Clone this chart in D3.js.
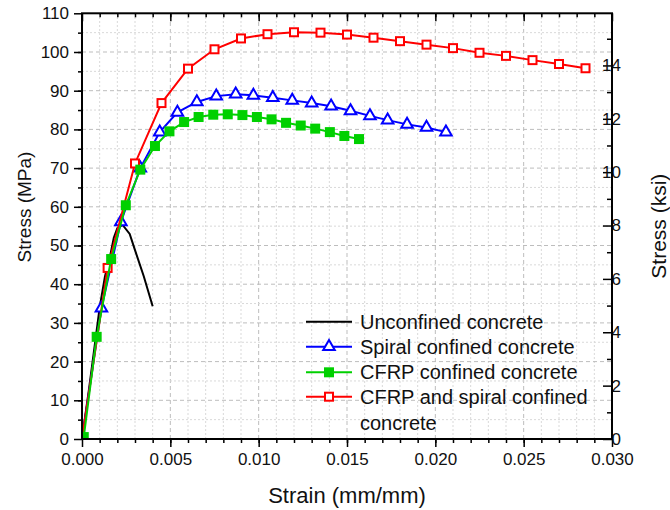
<!DOCTYPE html>
<html>
<head>
<meta charset="utf-8">
<script src="https://cdn.jsdelivr.net/npm/d3@7"></script>
<style>
  body { margin: 0; background: #fff; }
  svg { font-family: "Liberation Sans", Arial, sans-serif; }
</style>
</head>
<body>
<script>
// strain (mm/mm) and stress (MPa)
const unconfinedStrain = [0, 0.0004, 0.0008, 0.0010, 0.0013, 0.0016, 0.0018, 0.0020, 0.0023, 0.0027, 0.0030, 0.0035, 0.0040];
const unconfinedStress = [0, 13, 27, 34, 42, 47.5, 52, 54.5, 55.3, 53, 48.8, 42, 34.3];

const spiralStrain = [0, 0.0011, 0.0022, 0.0033, 0.0044, 0.0054, 0.0065, 0.0076, 0.0087, 0.0097, 0.0108, 0.0119, 0.0130, 0.0141, 0.0152, 0.0163, 0.0173, 0.0184, 0.0195, 0.0206];
const spiralStress = [0, 33.8, 56.1, 70, 79.3, 84.4, 87.1, 88.6, 89.1, 88.8, 88.2, 87.5, 86.8, 86.0, 84.8, 83.5, 82.4, 81.3, 80.5, 79.3];

const cfrpStrain = [0.0001, 0.00083, 0.00165, 0.00248, 0.0033, 0.00413, 0.00495, 0.00578, 0.0066, 0.00743, 0.00825, 0.00908, 0.0099, 0.01073, 0.01155, 0.01238, 0.0132, 0.01403, 0.01485, 0.01568];
const cfrpStress = [0.5, 26.4, 46.5, 60.4, 69.6, 75.7, 79.5, 81.9, 83.2, 83.8, 83.9, 83.7, 83.2, 82.6, 81.7, 81.0, 80.2, 79.3, 78.3, 77.5];

const bothStrain = [0, 0.00145, 0.003, 0.0045, 0.006, 0.0075, 0.009, 0.0105, 0.012, 0.0135, 0.015, 0.0165, 0.018, 0.0195, 0.021, 0.0225, 0.024, 0.0255, 0.027, 0.0285];
const bothStress = [0, 44.2, 71.2, 86.8, 95.7, 100.7, 103.5, 104.6, 105.1, 105.0, 104.5, 103.7, 102.8, 101.9, 101.0, 99.8, 99.0, 97.9, 96.9, 95.8];

const legendNames = ['Unconfined concrete', 'Spiral confined concrete', 'CFRP confined concrete', 'CFRP and spiral confined concrete'];

const xTicks = [0, 0.005, 0.010, 0.015, 0.020, 0.025, 0.030];
const yTicks = [0, 10, 20, 30, 40, 50, 60, 70, 80, 90, 100, 110];
const ksiTicks = [0, 2, 4, 6, 8, 10, 12, 14];
const MPA_PER_KSI = 6.895;

const W = 670, H = 510;
const pLeft = 82, pRight = 612, pTop = 13.3, pBottom = 439;

const svg = d3.select('body').append('svg')
    .attr('width', W)
    .attr('height', H);

const x = d3.scaleLinear().domain([0, 0.030]).range([pLeft, pRight]);
const y = d3.scaleLinear().domain([0, 110]).range([pBottom, pTop]);
const yk = d3.scaleLinear().domain([0, 110 / MPA_PER_KSI]).range([pBottom, pTop]);

// grille (mineure plus claire)
const xMinor = d3.range(1, 30).map(d => d / 1000);
const yMinor = d3.range(5, 110, 5);
const grid = svg.append('g');
grid.selectAll('.vx').data(xMinor).join('line')
    .attr('x1', d => x(d)).attr('x2', d => x(d))
    .attr('y1', pBottom).attr('y2', pTop)
    .attr('stroke', d => Math.round(d * 1000) % 5 === 0 ? '#bdbdbd' : '#d9d9d9')
    .attr('stroke-width', 1)
    .attr('stroke-dasharray', d => Math.round(d * 1000) % 5 === 0 ? '4,3' : '2,2');
grid.selectAll('.hy').data(yMinor).join('line')
    .attr('x1', pLeft).attr('x2', pRight)
    .attr('y1', d => y(d)).attr('y2', d => y(d))
    .attr('stroke', d => d % 10 === 0 ? '#bdbdbd' : '#d9d9d9')
    .attr('stroke-width', 1)
    .attr('stroke-dasharray', d => d % 10 === 0 ? '4,3' : '2,2');

svg.append('clipPath').attr('id', 'plot')
    .append('rect')
    .attr('x', pLeft).attr('y', pTop)
    .attr('width', pRight - pLeft).attr('height', pBottom - pTop);

const series = [
    { name: legendNames[0], xs: unconfinedStrain, ys: unconfinedStress, color: '#000000', marker: null },
    { name: legendNames[1], xs: spiralStrain, ys: spiralStress, color: '#0000ff', marker: 'triangle' },
    { name: legendNames[3], xs: bothStrain, ys: bothStress, color: '#ff0000', marker: 'open' },
    { name: legendNames[2], xs: cfrpStrain, ys: cfrpStress, color: '#00d000', marker: 'filled' }
];

const line = d3.line().x(d => x(d[0])).y(d => y(d[1]));
const tri = d3.symbol().type(d3.symbolTriangle).size(58);

function drawMarker(g, kind, color) {
    if (kind === 'triangle') {
        g.append('path').attr('d', tri())
            .attr('fill', '#fff').attr('stroke', color).attr('stroke-width', 2);
    } else if (kind === 'open') {
        g.append('rect').attr('x', -4).attr('y', -4).attr('width', 8).attr('height', 8)
            .attr('fill', '#fff').attr('stroke', color).attr('stroke-width', 2);
    } else if (kind === 'filled') {
        g.append('rect').attr('x', -5).attr('y', -5).attr('width', 10).attr('height', 10)
            .attr('fill', color);
    }
}

const plot = svg.append('g').attr('clip-path', 'url(#plot)');
series.forEach(s => {
    const pts = s.xs.map((v, i) => [v, s.ys[i]]);
    plot.append('path')
        .datum(pts)
        .attr('d', line)
        .attr('fill', 'none')
        .attr('stroke', s.color)
        .attr('stroke-width', 2);
    if (s.marker) {
        pts.forEach(p => {
            const g = plot.append('g').attr('transform', `translate(${x(p[0])},${y(p[1])})`);
            drawMarker(g, s.marker, s.color);
        });
    }
});

// axes
const axisStyle = g => {
    g.select('.domain').remove();
    g.selectAll('.tick line').attr('stroke', '#000').attr('stroke-width', 1.5);
    g.selectAll('.tick text').attr('fill', '#111').style('font-size', '17px').style('font-family', '"Liberation Sans", Arial, sans-serif');
};

// bas
svg.append('g').attr('transform', `translate(0,${pBottom})`)
    .call(d3.axisBottom(x).tickValues(xMinor).tickSize(4).tickFormat(''))
    .call(axisStyle);
svg.append('g').attr('transform', `translate(0,${pBottom})`)
    .call(d3.axisBottom(x).tickValues(xTicks).tickSize(8).tickPadding(6).tickFormat(d3.format('.3f')))
    .call(axisStyle);
// haut (vers l'intérieur, sans texte)
svg.append('g').attr('transform', `translate(0,${pTop})`)
    .call(d3.axisBottom(x).tickValues(xMinor).tickSize(4).tickFormat(''))
    .call(axisStyle);
svg.append('g').attr('transform', `translate(0,${pTop})`)
    .call(d3.axisBottom(x).tickValues(xTicks).tickSize(8).tickFormat(''))
    .call(axisStyle);
// gauche
svg.append('g').attr('transform', `translate(${pLeft},0)`)
    .call(d3.axisLeft(y).tickValues(yMinor).tickSize(4).tickFormat(''))
    .call(axisStyle);
svg.append('g').attr('transform', `translate(${pLeft},0)`)
    .call(d3.axisLeft(y).tickValues(yTicks).tickSize(8).tickPadding(5))
    .call(axisStyle);
// droite (ksi)
svg.append('g').attr('transform', `translate(${pRight},0)`)
    .call(d3.axisLeft(yk).tickValues(d3.range(1, 16, 2)).tickSize(5).tickFormat(''))
    .call(axisStyle);
const rAxis = svg.append('g').attr('transform', `translate(${pRight},0)`)
    .call(d3.axisLeft(yk).tickValues(ksiTicks).tickSize(9).tickFormat(''))
    .call(axisStyle);
rAxis.selectAll('.tick').append('text')
    .attr('x', 9).attr('dy', '0.32em')
    .attr('fill', '#111')
    .style('font-size', '17px')
    .text(d => d);

// cadre
svg.append('rect')
    .attr('x', pLeft).attr('y', pTop)
    .attr('width', pRight - pLeft).attr('height', pBottom - pTop)
    .attr('fill', 'none')
    .attr('stroke', '#000')
    .attr('stroke-width', 2);

// titres
svg.append('text')
    .attr('x', (pLeft + pRight) / 2).attr('y', 503)
    .attr('text-anchor', 'middle')
    .style('font-size', '22px')
    .attr('fill', '#111')
    .text('Strain (mm/mm)');

svg.append('text')
    .attr('transform', 'translate(31,207) rotate(-90)')
    .attr('text-anchor', 'middle')
    .style('font-size', '19px')
    .attr('fill', '#111')
    .text('Stress (MPa)');

svg.append('text')
    .attr('transform', `translate(666,${(pTop + pBottom) / 2}) rotate(-90)`)
    .attr('text-anchor', 'middle')
    .style('font-size', '21px')
    .attr('fill', '#111')
    .text('Stress (ksi)');

// légende
const legendOrder = [series[0], series[1], series[3], series[2]];
const legendRows = [321.7, 346.7, 372.3, 396.7];
const legend = svg.append('g');
legendOrder.forEach((s, i) => {
    const ly = legendRows[i];
    legend.append('line')
        .attr('x1', 306).attr('x2', 352)
        .attr('y1', ly).attr('y2', ly)
        .attr('stroke', s.color).attr('stroke-width', 2);
    if (s.marker) {
        const g = legend.append('g').attr('transform', `translate(329,${ly})`);
        drawMarker(g, s.marker, s.color);
    }
    const t = legend.append('text')
        .attr('x', 360).attr('y', ly)
        .attr('dy', '0.35em')
        .style('font-size', '20px')
        .attr('fill', '#111');
    if (s.name === legendNames[3]) {
        t.append('tspan').text('CFRP and spiral confined');
        t.append('tspan').attr('x', 360).attr('dy', '1.3em').text('concrete');
    } else {
        t.text(s.name);
    }
});
</script>
</body>
</html>
